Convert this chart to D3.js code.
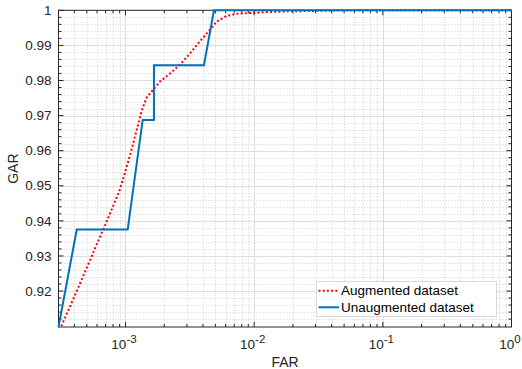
<!DOCTYPE html>
<html><head><meta charset="utf-8">
<script src="https://cdn.jsdelivr.net/npm/d3@7"></script>
<style>
html,body{margin:0;padding:0;background:#fff;}
svg{display:block;font-family:"Liberation Sans",Arial,Helvetica,sans-serif;}
</style></head>
<body>
<svg id="chart" width="522" height="369"></svg>
<script>
// ---- data ----
const augFAR = [3.17e-4, 4.06e-4, 5.30e-4, 6.94e-4, 8.29e-4, 9.06e-4, 1.021e-3, 1.117e-3, 1.222e-3, 1.337e-3, 1.462e-3, 1.645e-3, 1.854e-3, 2.22e-3, 2.65e-3, 3.17e-3, 3.68e-3, 4.28e-3, 5.12e-3, 6.11e-3, 7.31e-3, 9.27e-3, 0.0125, 0.0179, 0.0272, 0.047, 1];
const augGAR = [0.9100, 0.9189, 0.9288, 0.9388, 0.9455, 0.9490, 0.9554, 0.9604, 0.9659, 0.9714, 0.9752, 0.9774, 0.9797, 0.9820, 0.9845, 0.9877, 0.9906, 0.9934, 0.9968, 0.9984, 0.9990, 0.9992, 0.9995, 0.9997, 0.9998, 1.0, 1.0];
const unaugFAR = [3.015e-4, 4.18e-4, 1.04e-3, 1.36e-3, 1.664e-3, 1.664e-3, 4.07e-3, 4.87e-3, 1];
const unaugGAR = [0.90975, 0.9375, 0.9375, 0.96875, 0.96875, 0.984375, 0.984375, 1, 1];
const xMajorTicks = [1e-3, 1e-2, 1e-1, 1];
const xTickExp = ["-3", "-2", "-1", "0"];
const yMajorTicks = [0.92, 0.93, 0.94, 0.95, 0.96, 0.97, 0.98, 0.99, 1];
const yTickLabels = ["0.92", "0.93", "0.94", "0.95", "0.96", "0.97", "0.98", "0.99", "1"];
const seriesNames = ["Augmented dataset", "Unaugmented dataset"];
const xDomain = [3.015e-4, 1];
const yDomain = [0.90975, 1];

// ---- layout ----
const L = 58.5, R = 511.5, T = 10.3, B = 327;
const svg = d3.select("#chart");
const x = d3.scaleLog().domain(xDomain).range([L, R]);
const y = d3.scaleLinear().domain(yDomain).range([B, T]);
const axisColor = "#262626";

// minor ticks
const xMinor = [];
for (let e = -4; e <= -1; e++) for (let m = 2; m <= 9; m++) {
  const v = m * Math.pow(10, e);
  if (v > xDomain[0] && v < xDomain[1]) xMinor.push(v);
}
const yMinor = [];
for (let k = 0; k < 60; k++) {
  const v = +(0.9 + k * 0.002).toFixed(4);
  if (v > yDomain[0] && v < yDomain[1] && Math.abs(v * 100 - Math.round(v * 100)) > 1e-6) yMinor.push(v);
}

const grid = svg.append("g");
grid.selectAll(".xm").data(xMinor).enter().append("line")
  .attr("x1", d => Math.round(x(d)) + 0.5).attr("x2", d => Math.round(x(d)) + 0.5)
  .attr("y1", T).attr("y2", B)
  .attr("stroke", "#cfcfcf").attr("stroke-width", 1).attr("stroke-dasharray", "1,2");
grid.selectAll(".ym").data(yMinor).enter().append("line")
  .attr("y1", d => Math.round(y(d)) + 0.5).attr("y2", d => Math.round(y(d)) + 0.5)
  .attr("x1", L).attr("x2", R)
  .attr("stroke", "#cfcfcf").attr("stroke-width", 1).attr("stroke-dasharray", "1,2");
grid.selectAll(".xM").data(xMajorTicks.slice(0, 3)).enter().append("line")
  .attr("x1", d => Math.round(x(d)) + 0.5).attr("x2", d => Math.round(x(d)) + 0.5)
  .attr("y1", T).attr("y2", B)
  .attr("stroke", "#dedede").attr("stroke-width", 1);
grid.selectAll(".yM").data(yMajorTicks.slice(0, -1)).enter().append("line")
  .attr("y1", d => Math.round(y(d)) + 0.5).attr("y2", d => Math.round(y(d)) + 0.5)
  .attr("x1", L).attr("x2", R)
  .attr("stroke", "#dedede").attr("stroke-width", 1);

// axes box with inward ticks
const ax = svg.append("g").attr("stroke", axisColor).attr("stroke-width", 1);
ax.append("rect").attr("x", L).attr("y", T).attr("width", R - L).attr("height", B - T)
  .attr("fill", "none");
function xTicks(vals, len) {
  vals.forEach(v => {
    const px = x(v);
    ax.append("line").attr("x1", px).attr("x2", px).attr("y1", B).attr("y2", B - len);
    ax.append("line").attr("x1", px).attr("x2", px).attr("y1", T).attr("y2", T + len);
  });
}
function yTicks(vals, len) {
  vals.forEach(v => {
    const py = y(v);
    ax.append("line").attr("y1", py).attr("y2", py).attr("x1", L).attr("x2", L + len);
    ax.append("line").attr("y1", py).attr("y2", py).attr("x1", R).attr("x2", R - len);
  });
}
xTicks(xMajorTicks, 5); xTicks(xMinor, 3);
yTicks(yMajorTicks, 5); yTicks(yMinor, 3);

// tick labels
const yl = svg.append("g").attr("fill", axisColor).attr("font-size", "13.5px").attr("text-anchor", "end");
yMajorTicks.forEach((v, i) => {
  yl.append("text").attr("x", L - 7).attr("y", y(v)).attr("dy", "0.35em").text(yTickLabels[i]);
});
const xl = svg.append("g").attr("fill", axisColor).attr("font-size", "13.5px");
xMajorTicks.forEach((v, i) => {
  const t = xl.append("text").attr("x", x(v) - 1.5).attr("y", 349).attr("text-anchor", "middle");
  t.append("tspan").text("10");
  t.append("tspan").attr("dy", -6.5).attr("font-size", "11.5px").text(xTickExp[i]);
});

// axis labels
svg.append("text").attr("x", (L + R) / 2).attr("y", 366.5).attr("text-anchor", "middle")
  .attr("font-size", "14px").attr("fill", axisColor).text("FAR");
svg.append("text").attr("transform", `translate(18,${(T + B) / 2}) rotate(-90)`)
  .attr("text-anchor", "middle").attr("font-size", "14px").attr("fill", axisColor).text("GAR");

// series lines
const line = d3.line().x(d => x(d[0])).y(d => y(d[1]));
const augData = augFAR.map((f, i) => [f, augGAR[i]]);
const unaugData = unaugFAR.map((f, i) => [f, unaugGAR[i]]);
svg.append("path").datum(augData).attr("d", line).attr("fill", "none")
  .attr("stroke", "#ff0000").attr("stroke-width", 2).attr("stroke-dasharray", "2,2.2");
svg.append("path").datum(unaugData).attr("d", line).attr("fill", "none")
  .attr("stroke", "#0072bd").attr("stroke-width", 2);

// legend
const lg = svg.append("g");
lg.append("rect").attr("x", 316.5).attr("y", 281.5).attr("width", 180).attr("height", 35)
  .attr("fill", "#fff").attr("stroke", "#d9d9d9").attr("stroke-width", 1);
const legendStyles = [{c: "#ff0000", dash: "2,2.2"}, {c: "#0072bd", dash: null}];
seriesNames.forEach((name, i) => {
  const cy = 290.7 + i * 16.6;
  const ln = lg.append("line").attr("x1", 318.5).attr("x2", 339).attr("y1", cy).attr("y2", cy)
    .attr("stroke", legendStyles[i].c).attr("stroke-width", 2);
  if (legendStyles[i].dash) ln.attr("stroke-dasharray", legendStyles[i].dash);
  lg.append("text").attr("x", 341).attr("y", cy).attr("dy", "0.35em").attr("font-size", "13.5px")
    .attr("fill", "#000").text(name);
});
</script>
</body></html>
